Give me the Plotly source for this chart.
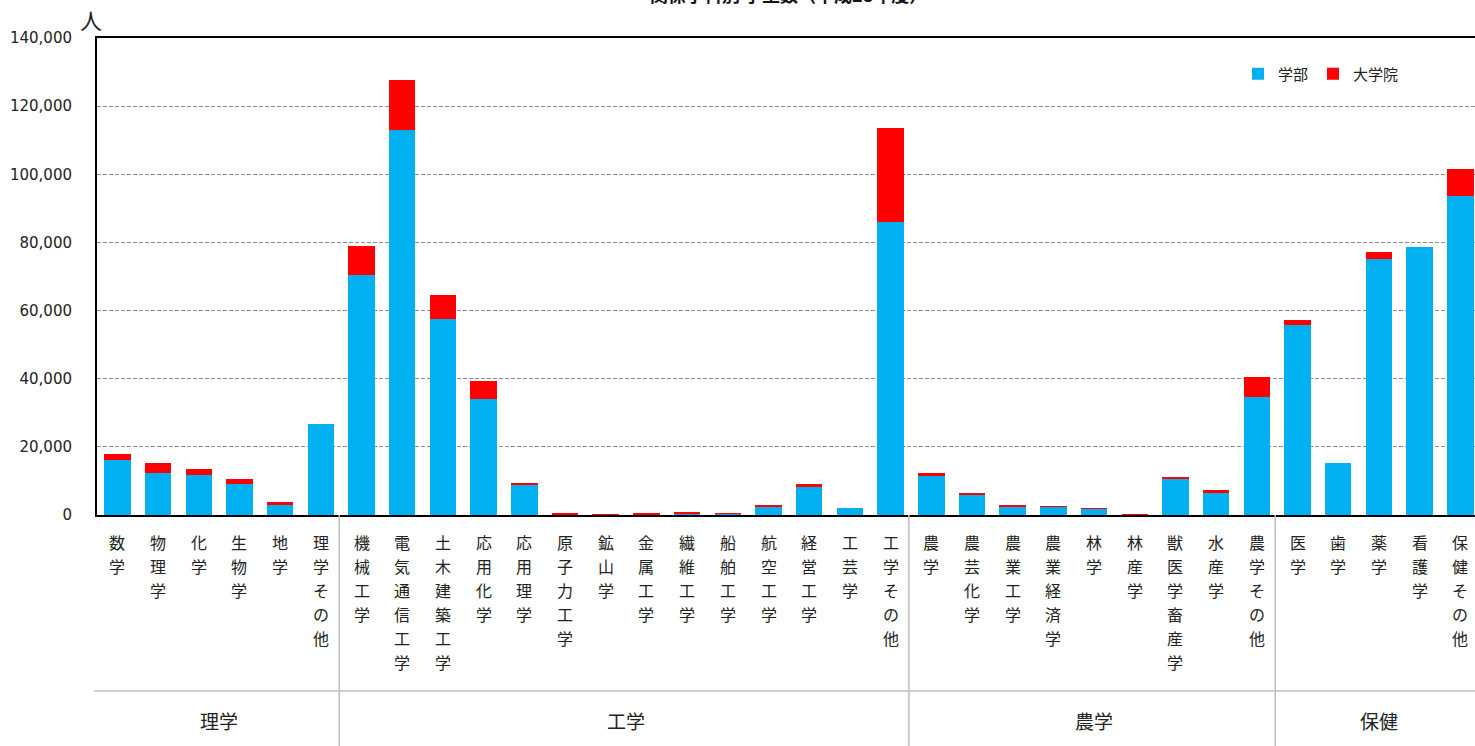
import plotly.graph_objects as go

# 関係学科別 学生数（平成28年度）
categories = [
    "数学", "物理学", "化学", "生物学", "地学", "理学その他",
    "機械工学", "電気通信工学", "土木建築工学", "応用化学", "応用理学", "原子力工学",
    "鉱山学", "金属工学", "繊維工学", "船舶工学", "航空工学", "経営工学", "工芸学", "工学その他",
    "農学", "農芸化学", "農業工学", "農業経済学", "林学", "林産学", "獣医学畜産学", "水産学", "農学その他",
    "医学", "歯学", "薬学", "看護学", "保健その他",
]
undergrad = [
    16000, 12300, 11700, 9200, 2900, 26700,
    70400, 113100, 57600, 34000, 8900, 200,
    20, 100, 500, 400, 2400, 8300, 2200, 85900,
    11400, 6000, 2500, 2350, 1800, 20, 10600, 6500, 34700,
    55800, 15300, 75200, 78600, 93600,
]
graduate = [
    2000, 3000, 1800, 1400, 900, 0,
    8500, 14700, 7000, 5400, 400, 300,
    10, 200, 400, 100, 500, 700, 0, 27800,
    900, 300, 400, 100, 200, 10, 300, 800, 5800,
    1400, 0, 2000, 0, 7900,
]
groups = ["理学", "工学", "農学", "保健"]
group_sizes = [6, 14, 9, 5]
y_ticks = [0, 20000, 40000, 60000, 80000, 100000, 120000, 140000]

BLUE = "#00B0F0"
RED = "#FF0000"
JP_FONT = "Noto Sans CJK JP"
NUM_FONT = "DejaVu Sans"

fig = go.Figure()
fig.add_trace(go.Bar(x=categories, y=undergrad, name="学部",
                     marker=dict(color=BLUE, line=dict(width=0)), width=0.65))
fig.add_trace(go.Bar(x=categories, y=graduate, name="大学院",
                     marker=dict(color=RED, line=dict(width=0)), width=0.65))

# plot area spans pixels 38..515 vertically
PLOT_H = 477.0
def px_to_paper(dy_below_axis):
    return -dy_below_axis / PLOT_H

annotations = []
# vertical (one character per row) category labels
for idx, name in enumerate(categories):
    for j, ch in enumerate(name):
        annotations.append(dict(
            x=idx, xref="x", y=0, yref="paper", text=ch, showarrow=False,
            xanchor="center", yanchor="middle", yshift=-(26.5 + 24 * j),
            font=dict(family=JP_FONT, size=16, color="#222222"),
        ))

# group labels and separators
shapes = []
start = 0
for g, n in zip(groups, group_sizes):
    annotations.append(dict(
        x=start + (n - 1) / 2, xref="x", y=px_to_paper(205), yref="paper",
        text=g, showarrow=False, xanchor="center", yanchor="middle",
        font=dict(family=JP_FONT, size=19, color="#222222"),
    ))
    shapes.append(dict(type="line", xref="x", yref="paper",
                       x0=start - 0.55, x1=start - 0.55, y0=0, y1=px_to_paper(240),
                       line=dict(color="#BFBFBF", width=1.5)))
    start += n
shapes.append(dict(type="line", xref="paper", yref="paper",
                   x0=-0.002, x1=1, y0=px_to_paper(176), y1=px_to_paper(176),
                   line=dict(color="#BFBFBF", width=1.5)))

# unit label and title
annotations.append(dict(
    x=-0.004, xref="paper", y=1 + 19 / PLOT_H, yref="paper", text="人",
    showarrow=False, xanchor="center", yanchor="middle",
    font=dict(family=JP_FONT, size=22, color="#222222"),
))
annotations.append(dict(
    x=(789 - 97) / 1378, xref="paper", y=1 + 44 / PLOT_H, yref="paper",
    text="<b>関係学科別 学生数（平成28年度）</b>", showarrow=False,
    xanchor="center", yanchor="middle",
    font=dict(family=JP_FONT, size=18, color="#111111"),
))

fig.update_layout(
    width=1475, height=746,
    margin=dict(l=97, r=0, t=38, b=231, pad=0),
    barmode="stack",
    plot_bgcolor="white", paper_bgcolor="white",
    showlegend=True,
    legend=dict(orientation="h", x=0.828, xanchor="left", y=1 - 36 / PLOT_H,
                yanchor="middle", font=dict(family=JP_FONT, size=15, color="#222222"),
                bgcolor="rgba(0,0,0,0)", itemwidth=30, traceorder="normal"),
    annotations=annotations,
    shapes=shapes,
)
fig.update_xaxes(
    type="category", range=[-0.5, 33.36], showticklabels=False, ticks="",
    showgrid=False, showline=True, linecolor="black", linewidth=2, mirror=True,
    zeroline=False, fixedrange=True,
)
fig.update_yaxes(
    range=[0, 140000], tickvals=y_ticks, tickformat=",d",
    tickfont=dict(family=NUM_FONT, size=15, color="#222222"),
    showgrid=True, gridcolor="#8C8C8C", gridwidth=1, griddash="4px,2px",
    showline=True, linecolor="black", linewidth=2, ticks="",
    ticklabelstandoff=20, zeroline=False,
)

fig.write_html("out.html")
